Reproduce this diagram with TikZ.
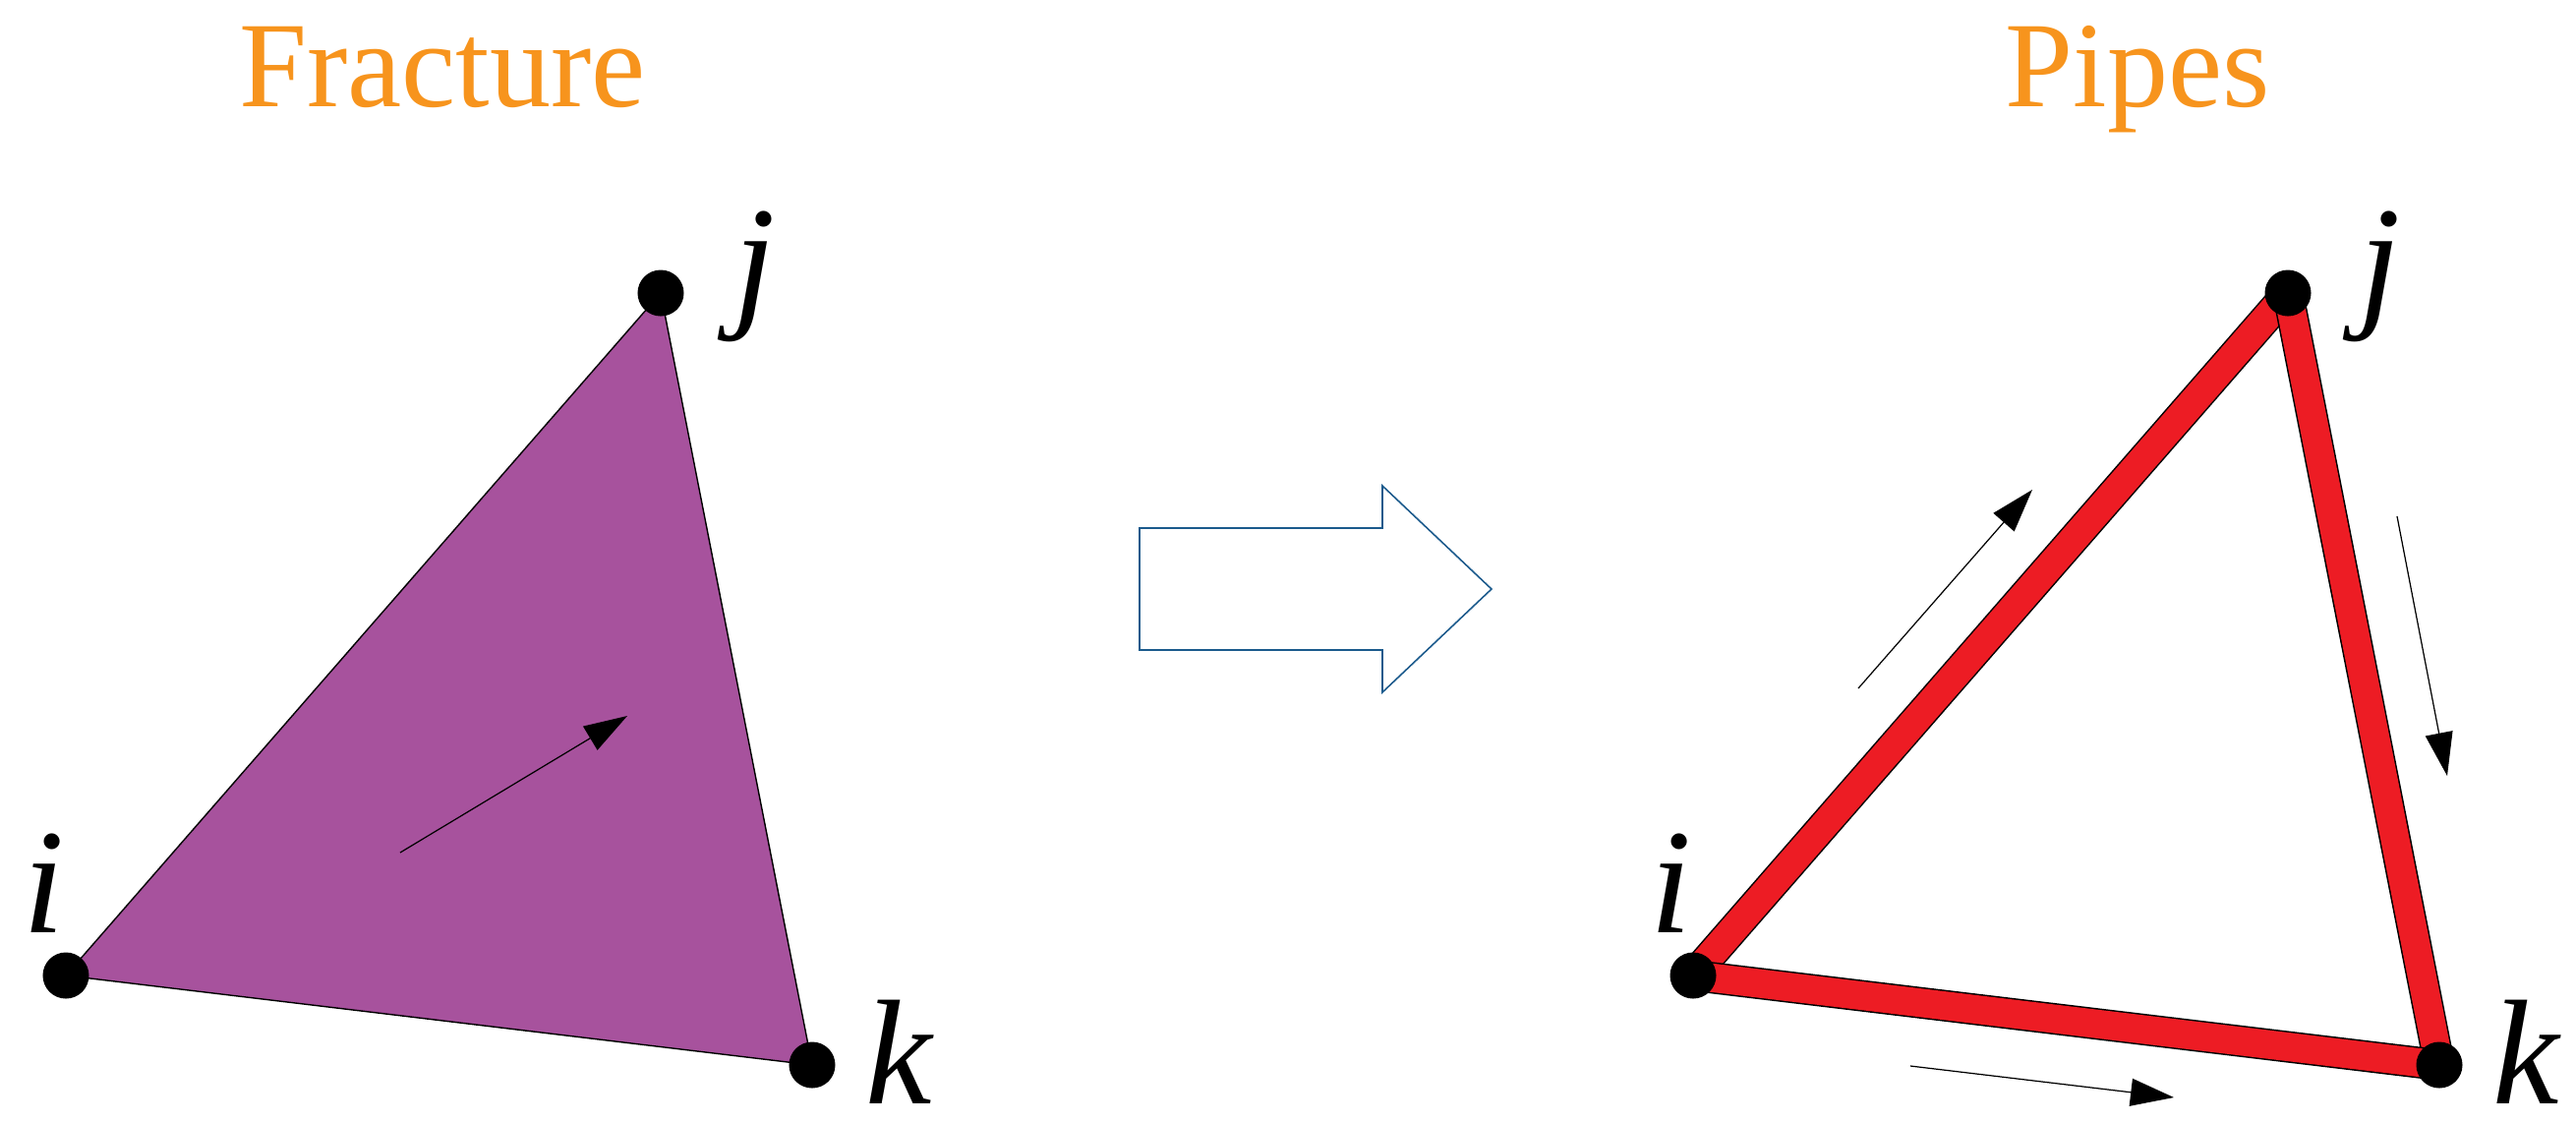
\documentclass[tikz,border=0pt]{standalone}
\usepackage{fontspec}
\setmainfont{Liberation Serif}
\usetikzlibrary{arrows.meta}
\definecolor{fracpurple}{HTML}{A7529D}
\definecolor{pipered}{HTML}{ED1C24}
\definecolor{titleorange}{HTML}{F7941D}
\definecolor{bigarrowblue}{HTML}{1B5A8C}
\tikzset{
  vdot/.style={circle,fill=black,inner sep=0pt,minimum size=0.47cm},
  title/.style={text=titleorange,anchor=base,inner sep=0pt,font=\fontsize{35.3}{40}\selectfont},
  vlabel/.style={anchor=base,inner sep=0pt,font=\fontsize{43.2}{50}\selectfont\itshape},
  pipeout/.style={line width=0.32cm,draw=black},
  pipein/.style={line width=0.29cm,draw=pipered},
  flow/.style={line width=0.35pt,-{Triangle[length=0.44cm,width=0.28cm]}},
  fracedge/.style={draw=black,line width=0.4pt,fill=fracpurple}
}
\begin{document}
\begin{tikzpicture}[x=0.01cm,y=-0.01cm]
\useasboundingbox (0,0) rectangle (2620,1141);
% titles
\node[title] (tfrac) at (450,108) {Fracture};
\node[title] (tpipes) at (2174,108) {Pipes};
% left triangle (fracture)
\coordinate (Lic) at (67,992);
\coordinate (Ljc) at (672,298);
\coordinate (Lkc) at (826,1083);
\path[fracedge] (Lic) -- (Ljc) -- (Lkc) -- cycle;
\node[vdot] (Li) at (Lic) {};
\node[vdot] (Lj) at (Ljc) {};
\node[vdot] (Lk) at (Lkc) {};
\node[vlabel] (Lli) at (45,948) {i};
\node[vlabel] (Llj) at (768,315) {j};
\node[vlabel,text depth=0pt] (Llk) at (914,1122) {k};
\coordinate (Lfs) at (407,867);
\coordinate (Lfe) at (638,728);
\draw[flow] (Lfs) -- (Lfe);
% big hollow arrow
\draw[bigarrowblue,line width=0.45pt,line join=miter]
  (1159,537) -- (1406,537) -- (1406,494) -- (1517,599) -- (1406,704) -- (1406,661) -- (1159,661) -- cycle;
% right triangle (pipes)
\coordinate (Ric) at (1722,992);
\coordinate (Rjc) at (2327,298);
\coordinate (Rkc) at (2481,1083);
\draw[pipeout] (Ric) -- (Rjc);
\draw[pipein] (Ric) -- (Rjc);
\draw[pipeout] (Rjc) -- (Rkc);
\draw[pipein] (Rjc) -- (Rkc);
\draw[pipeout] (Rkc) -- (Ric);
\draw[pipein] (Rkc) -- (Ric);
\node[vdot] (Ri) at (Ric) {};
\node[vdot] (Rj) at (Rjc) {};
\node[vdot] (Rk) at (Rkc) {};
\node[vlabel] (Rli) at (1700,948) {i};
\node[vlabel] (Rlj) at (2421,315) {j};
\node[vlabel,text depth=0pt] (Rlk) at (2569,1122) {k};
% flow arrows along pipes
\coordinate (Rf1s) at (1890,700);
\coordinate (Rf1e) at (2067,498);
\coordinate (Rf2s) at (2438,525);
\coordinate (Rf2e) at (2489,789);
\coordinate (Rf3s) at (1943,1084);
\coordinate (Rf3e) at (2211,1116);
\draw[flow] (Rf1s) -- (Rf1e);
\draw[flow] (Rf2s) -- (Rf2e);
\draw[flow] (Rf3s) -- (Rf3e);
\end{tikzpicture}
\end{document}
